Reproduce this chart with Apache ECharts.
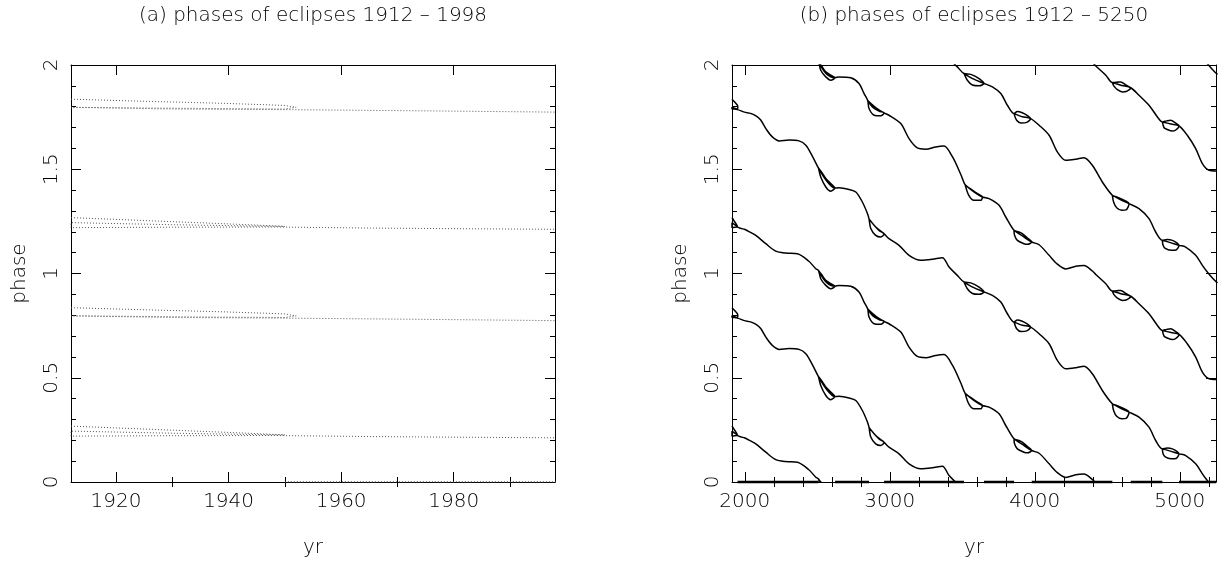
<!DOCTYPE html>
<html>
<head>
<meta charset="utf-8">
<script src="https://cdn.jsdelivr.net/npm/echarts@6/dist/echarts.min.js"></script>
<style>
  html, body { margin: 0; padding: 0; background: #ffffff; }
  #chart { width: 1220px; height: 564px; }
</style>
</head>
<body>
<div id="chart"></div>
<script>
// Primary eclipse phase against year, [yr, phase]; the track doubles back on itself in the small loops.
const primaryPhase = [
  [1912, 1.836], [1925, 1.826], [1938, 1.817], [1946, 1.810], [1950, 1.806], [1952, 1.797], [1950, 1.789], [1938, 1.791], [1925, 1.794], [1912, 1.797],
  [1912, 1.790], [1930, 1.789], [1950, 1.786], [1975, 1.780], [1998, 1.774],
  [2040, 1.768], [2080, 1.755], [2110, 1.736], [2149, 1.691], [2190, 1.655], [2237, 1.636], [2306, 1.640], [2374, 1.636], [2421, 1.615], [2466, 1.563], [2501, 1.515],
  [2508, 1.506], [2524, 1.463], [2559, 1.415], [2593, 1.395], [2621, 1.410], [2593, 1.432], [2559, 1.456], [2530, 1.486], [2508, 1.506], [2560, 1.448], [2621, 1.410],
  [2650, 1.411], [2719, 1.403], [2766, 1.391], [2811, 1.343], [2846, 1.288],
  [2857, 1.262], [2869, 1.216], [2903, 1.183], [2938, 1.175], [2961, 1.190], [2926, 1.207], [2892, 1.231], [2857, 1.262], [2905, 1.222], [2961, 1.190],
  [2995, 1.167], [3064, 1.135], [3133, 1.087], [3214, 1.063], [3294, 1.068], [3363, 1.076], [3409, 1.031], [3466, 0.991],
  [3512, 0.959], [3559, 0.955], [3616, 0.935], [3650, 0.912], [3616, 0.900], [3570, 0.904], [3535, 0.927], [3512, 0.959], [3580, 0.932], [3650, 0.912],
  [3708, 0.895], [3766, 0.863], [3811, 0.807], [3857, 0.767],
  [3880, 0.777], [3910, 0.772], [3950, 0.757], [3972, 0.743], [3945, 0.725], [3905, 0.722], [3875, 0.735], [3857, 0.767], [3915, 0.752], [3972, 0.743],
  [4030, 0.711], [4099, 0.663], [4156, 0.583], [4214, 0.543], [4283, 0.548], [4340, 0.555], [4397, 0.519], [4466, 0.439], [4535, 0.375],
  [4565, 0.367], [4593, 0.359], [4630, 0.347], [4650, 0.335], [4630, 0.305], [4600, 0.303], [4565, 0.315], [4545, 0.340], [4535, 0.375], [4590, 0.355], [4650, 0.335],
  [4719, 0.311], [4788, 0.263], [4834, 0.199], [4880, 0.159],
  [4915, 0.163], [4949, 0.159], [4980, 0.147], [4995, 0.135], [4975, 0.113], [4940, 0.111], [4900, 0.120], [4885, 0.135], [4880, 0.159], [4935, 0.148], [4995, 0.135],
  [5041, 0.127], [5110, 0.087], [5156, 0.039], [5190, 0.007], [5230, -0.025], [5260, -0.045]
];

// Secondary eclipse phase against year, [yr, phase].
const secondaryPhase = [
  [1912, 1.268], [1925, 1.254], [1938, 1.240], [1946, 1.231], [1950, 1.226], [1946, 1.227], [1930, 1.234], [1912, 1.244],
  [1912, 1.220], [1930, 1.222], [1948, 1.223], [1965, 1.218], [1980, 1.215], [1998, 1.212],
  [2040, 1.197], [2076, 1.183], [2145, 1.143], [2214, 1.107], [2283, 1.098], [2363, 1.095], [2440, 1.060], [2490, 1.023],
  [2508, 1.015], [2524, 0.975], [2559, 0.943], [2593, 0.927], [2623, 0.939], [2593, 0.951], [2559, 0.967], [2530, 0.995], [2508, 1.015], [2560, 0.960], [2623, 0.939],
  [2650, 0.943], [2731, 0.939], [2788, 0.911], [2823, 0.863], [2848, 0.830],
  [2857, 0.791], [2892, 0.759], [2938, 0.756], [2961, 0.770], [2926, 0.779], [2880, 0.799], [2848, 0.830], [2905, 0.795], [2961, 0.770],
  [2995, 0.759], [3076, 0.719], [3133, 0.647], [3190, 0.602], [3248, 0.596], [3317, 0.607], [3374, 0.611], [3432, 0.560], [3490, 0.475],
  [3520, 0.425], [3560, 0.405], [3600, 0.385], [3639, 0.367], [3628, 0.351], [3581, 0.351], [3545, 0.375], [3520, 0.425], [3580, 0.392], [3639, 0.367],
  [3685, 0.359], [3754, 0.327], [3800, 0.271], [3857, 0.207],
  [3890, 0.199], [3914, 0.191], [3950, 0.170], [3979, 0.151], [3950, 0.140], [3926, 0.143], [3880, 0.159], [3860, 0.185], [3857, 0.207], [3915, 0.180], [3979, 0.151],
  [4030, 0.138], [4099, 0.087], [4156, 0.045], [4214, 0.022], [4283, 0.035], [4340, 0.038], [4397, 0.012], [4421, -0.005], [4490, -0.049], [4535, -0.084],
  [4565, -0.083], [4593, -0.081], [4630, -0.097], [4662, -0.109], [4630, -0.127], [4604, -0.129], [4570, -0.118], [4545, -0.100], [4535, -0.084], [4600, -0.098], [4662, -0.109],
  [4719, -0.145], [4788, -0.193], [4846, -0.249], [4880, -0.273],
  [4910, -0.268], [4938, -0.265], [4970, -0.278], [4995, -0.292], [4970, -0.313], [4949, -0.317], [4910, -0.308], [4892, -0.301], [4880, -0.273], [4940, -0.283], [4995, -0.292],
  [5052, -0.337], [5110, -0.401], [5156, -0.473], [5202, -0.505], [5250, -0.508]
];

// Spans of years (start, end) where phase 0 is recorded.
const zeroPhaseSpans = [
  [1950, 2508], [2623, 2857], [2961, 3512], [3650, 3857], [3979, 4535], [4662, 4880], [4995, 5250]
];

// Phase is cyclic: each track is also drawn shifted by whole cycles.
const cycleShifts = [-1, 0, 1, 2];

// Axis ranges and ticks.
const yrRangeA = [1912, 1998];
const yrRangeB = [1912, 5250];
const yrMajorA = [1920, 1940, 1960, 1980];
const yrMinorA = [1930, 1950, 1970, 1990];
const yrMajorB = [2000, 3000, 4000, 5000];
const yrMinorB = [2200, 2400, 2600, 2800, 3200, 3400, 3600, 3800, 4200, 4400, 4600, 4800, 5200];
const phaseRange = [0, 2];
const phaseMajor = [0, 0.5, 1, 1.5, 2];
const phaseMinor = [0.1, 0.2, 0.3, 0.4, 0.6, 0.7, 0.8, 0.9, 1.1, 1.2, 1.3, 1.4, 1.6, 1.7, 1.8, 1.9];

const titles = ['(a) phases of eclipses 1912 \u2013 1998', '(b) phases of eclipses 1912 \u2013 5250'];

const FONT = 'DejaVu Sans';
const WEIGHT = 200;
const INK = '#000000';

const grids = [
  { left: 71, top: 65, width: 484, height: 417 },
  { left: 732, top: 65, width: 484, height: 417 }
];

function textStyle() {
  return { fontFamily: FONT, fontSize: 20, fontWeight: WEIGHT, color: INK };
}

function xAxesFor(gridIndex, range, major, minor) {
  const base = {
    type: 'value', gridIndex: gridIndex, min: range[0], max: range[1],
    splitLine: { show: false },
    axisLine: { show: true, onZero: false, lineStyle: { color: '#000', width: 1 } }
  };
  const tick = (vals, len) => ({ show: true, inside: true, length: len, customValues: vals, lineStyle: { color: '#000', width: 1 } });
  return [
    Object.assign({}, base, {
      position: 'bottom', axisTick: tick(major, 10),
      axisLabel: Object.assign({ show: true, customValues: major, margin: 10, formatter: v => String(v) }, textStyle()),
      name: 'yr', nameLocation: 'middle', nameGap: 56, nameTextStyle: textStyle()
    }),
    Object.assign({}, base, { position: 'bottom', axisLine: { show: false }, axisTick: tick(minor, 5), axisLabel: { show: false } }),
    Object.assign({}, base, { position: 'top', axisTick: tick(major, 10), axisLabel: { show: false } }),
    Object.assign({}, base, { position: 'top', axisLine: { show: false }, axisTick: tick(minor, 5), axisLabel: { show: false } })
  ];
}

function yAxesFor(gridIndex) {
  const base = {
    type: 'value', gridIndex: gridIndex, min: phaseRange[0], max: phaseRange[1],
    splitLine: { show: false },
    axisLine: { show: true, onZero: false, lineStyle: { color: '#000', width: 1 } }
  };
  const tick = (vals, len) => ({ show: true, inside: true, length: len, customValues: vals, lineStyle: { color: '#000', width: 1 } });
  return [
    Object.assign({}, base, {
      position: 'left', axisTick: tick(phaseMajor, 10),
      axisLabel: Object.assign({ show: true, customValues: phaseMajor, rotate: 90, margin: 9 }, textStyle()),
      name: 'phase', nameLocation: 'middle', nameGap: 41, nameTextStyle: textStyle()
    }),
    Object.assign({}, base, { position: 'left', axisLine: { show: false }, axisTick: tick(phaseMinor, 5), axisLabel: { show: false } }),
    Object.assign({}, base, { position: 'right', axisTick: tick(phaseMajor, 10), axisLabel: { show: false } }),
    Object.assign({}, base, { position: 'right', axisLine: { show: false }, axisTick: tick(phaseMinor, 5), axisLabel: { show: false } })
  ];
}

function shifted(track, k) {
  return track.map(p => [p[0], p[1] + k]);
}

function zeroLine() {
  const out = [];
  zeroPhaseSpans.forEach(s => { out.push([s[0], 0], [s[1], 0], [s[1], '-']); });
  return out;
}

const series = [];
// panel (a): fine dotted tracks
[primaryPhase, secondaryPhase].forEach(track => {
  cycleShifts.forEach(k => {
    series.push({
      type: 'line', xAxisIndex: 0, yAxisIndex: 0, data: shifted(track, k),
      showSymbol: false, symbol: 'none', clip: true, silent: true, animation: false,
      lineStyle: { color: '#555', width: 1, type: [1, 2] }
    });
  });
});
series.push({
  type: 'line', xAxisIndex: 0, yAxisIndex: 0, data: zeroLine(), connectNulls: false,
  symbol: 'none', clip: false, silent: true, animation: false,
  lineStyle: { color: '#444', width: 1.5, type: [1, 2] }
});
// panel (b): solid tracks over the long baseline
[primaryPhase, secondaryPhase].forEach(track => {
  cycleShifts.forEach(k => {
    series.push({
      type: 'line', xAxisIndex: 4, yAxisIndex: 4, data: shifted(track, k),
      showSymbol: false, symbol: 'none', clip: true, smooth: 0.3, silent: true, animation: false,
      lineStyle: { color: '#000', width: 1.5 }
    });
  });
});
series.push({
  type: 'line', xAxisIndex: 4, yAxisIndex: 4, data: zeroLine(), connectNulls: false,
  symbol: 'none', clip: false, silent: true, animation: false,
  lineStyle: { color: '#000', width: 2.5 }
});

const chart = echarts.init(document.getElementById('chart'));
chart.setOption({
  backgroundColor: '#ffffff',
  animation: false,
  title: titles.map((t, i) => ({
    text: t, left: grids[i].left + grids[i].width / 2, top: 6, textAlign: 'center', padding: 0,
    textStyle: textStyle()
  })),
  grid: grids,
  xAxis: xAxesFor(0, yrRangeA, yrMajorA, yrMinorA).concat(xAxesFor(1, yrRangeB, yrMajorB, yrMinorB)),
  yAxis: yAxesFor(0).concat(yAxesFor(1)),
  series: series
});
</script>
</body>
</html>
